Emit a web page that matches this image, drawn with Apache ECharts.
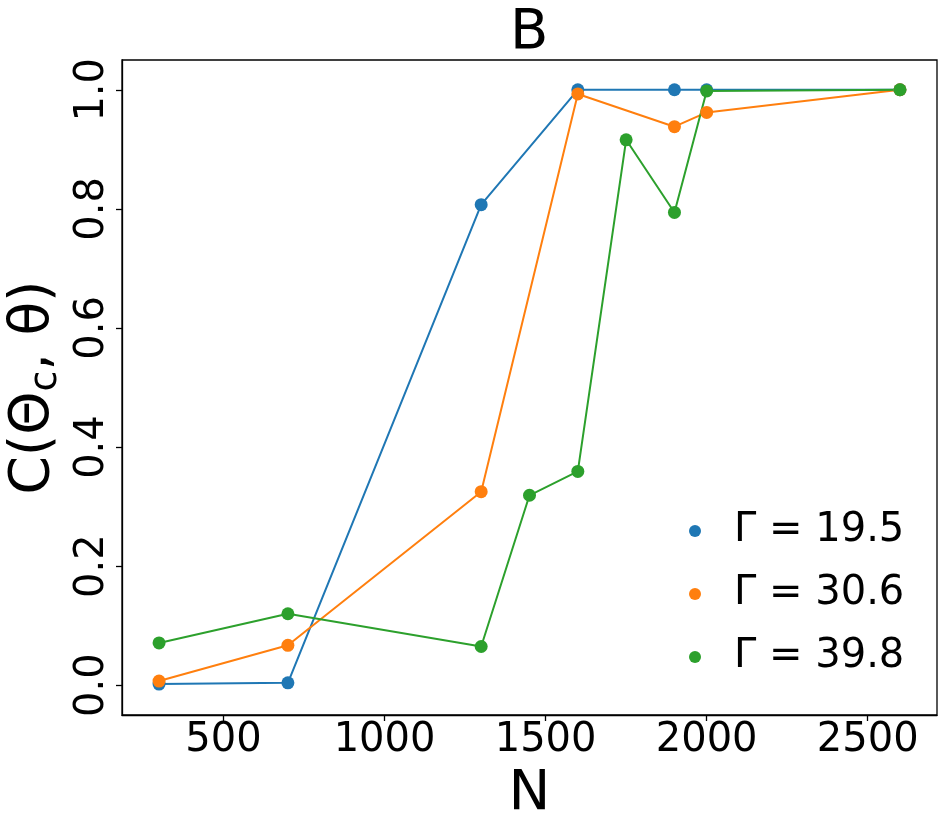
<!DOCTYPE html>
<html>
<head>
<meta charset="utf-8">
<script src="https://cdn.jsdelivr.net/npm/echarts@6/dist/echarts.min.js"></script>
<style>
  html, body { margin: 0; padding: 0; background: #fff; }
  #chart { width: 949px; height: 836px; }
</style>
</head>
<body>
<div id="chart"></div>
<script>
// 数据
var nBlue = [300, 700, 1300, 1600, 1900, 2000, 2600];
var cBlue = [0.002, 0.004, 0.807, 1.0, 1.0, 1.0, 1.0];
var nOrange = [300, 700, 1300, 1600, 1900, 2000, 2600];
var cOrange = [0.007, 0.067, 0.325, 0.993, 0.938, 0.962, 1.0];
var nGreen = [300, 700, 1300, 1450, 1600, 1750, 1900, 2000, 2600];
var cGreen = [0.071, 0.12, 0.065, 0.319, 0.359, 0.916, 0.794, 0.998, 1.0];
var legendNames = ['Γ = 19.5', 'Γ = 30.6', 'Γ = 39.8'];
var xTicks = [500, 1000, 1500, 2000, 2500];
var yTicks = [0, 0.2, 0.4, 0.6, 0.8, 1.0];

var font = 'DejaVu Sans';

function pairs(xs, ys) {
    return xs.map(function (x, i) { return [x, ys[i]]; });
}

function lineSeries(name, color, xs, ys) {
    return {
        name: name,
        type: 'line',
        data: pairs(xs, ys),
        symbol: 'circle',
        symbolSize: 13,
        showSymbol: true,
        animation: false,
        lineStyle: { color: color, width: 2 },
        itemStyle: { color: color }
    };
}

var myChart = echarts.init(document.getElementById('chart'));
var option = {
    backgroundColor: '#ffffff',
    animation: false,
    title: {
        text: 'B',
        left: 505,
        top: 0,
        textStyle: { fontFamily: font, fontSize: 56, fontWeight: 'normal', color: '#000' }
    },
    grid: {
        left: 122,
        right: 12,
        top: 60,
        bottom: 121,
        show: true,
        borderColor: '#000',
        borderWidth: 1.3,
        containLabel: false,
        outerBoundsMode: 'none'
    },
    legend: {
        orient: 'vertical',
        left: 684,
        top: 504,
        icon: 'circle',
        itemWidth: 68,
        itemHeight: 12,
        itemGap: 19,
        data: legendNames,
        textStyle: { fontFamily: font, fontSize: 40, lineHeight: 44, color: '#000' }
    },
    xAxis: {
        type: 'value',
        min: 185,
        max: 2715,
        name: 'N',
        nameLocation: 'middle',
        nameGap: 51,
        nameTextStyle: { fontFamily: font, fontSize: 56, color: '#000' },
        axisLine: { show: true, onZero: false, lineStyle: { color: '#000', width: 1.3 } },
        axisTick: { show: true, inside: false, length: 6, customValues: xTicks, lineStyle: { color: '#000', width: 1.3 } },
        axisLabel: {
            margin: 6,
            customValues: xTicks,
            fontFamily: font,
            fontSize: 40,
            color: '#000',
            formatter: function (v) { return String(v); }
        },
        splitLine: { show: false }
    },
    yAxis: {
        type: 'value',
        min: -0.05,
        max: 1.05,
        name: '{a|C(Θ}{s|c}{a|, θ)}',
        nameLocation: 'middle',
        nameRotate: 90,
        nameGap: 52,
        nameTextStyle: {
            rich: {
                a: { fontFamily: font, fontSize: 55, color: '#000' },
                s: { fontFamily: font, fontSize: 38, color: '#000', padding: [24, 0, 0, 0] }
            }
        },
        axisLine: { show: true, onZero: false, lineStyle: { color: '#000', width: 1.3 } },
        axisTick: { show: true, inside: false, length: 6, customValues: yTicks, lineStyle: { color: '#000', width: 1.3 } },
        axisLabel: {
            rotate: 90,
            margin: 9,
            customValues: yTicks,
            fontFamily: font,
            fontSize: 40,
            color: '#000',
            formatter: function (v) { return v.toFixed(1); }
        },
        splitLine: { show: false }
    },
    series: [
        lineSeries(legendNames[0], '#1f77b4', nBlue, cBlue),
        lineSeries(legendNames[1], '#ff7f0e', nOrange, cOrange),
        lineSeries(legendNames[2], '#2ca02c', nGreen, cGreen)
    ]
};
myChart.setOption(option);
</script>
</body>
</html>
